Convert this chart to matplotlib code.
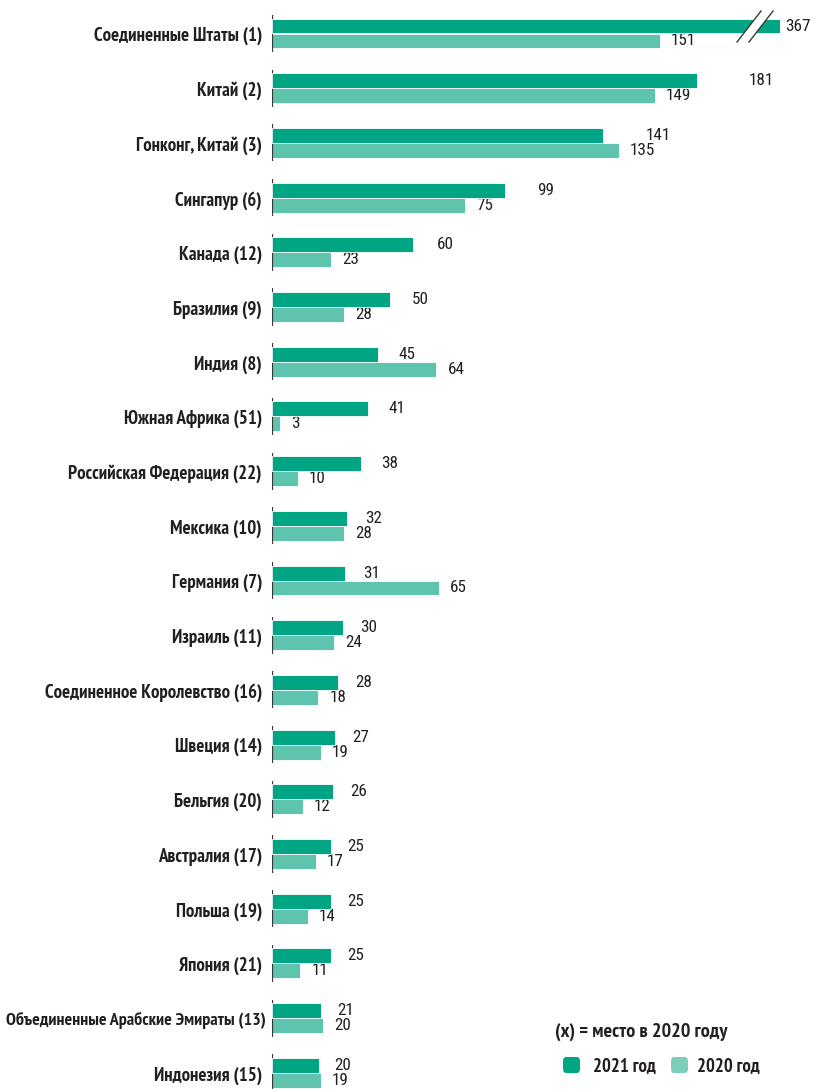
import matplotlib
matplotlib.use("Agg")
import matplotlib.pyplot as plt
from matplotlib.patches import FancyBboxPatch, Polygon
from matplotlib.lines import Line2D
import numpy as np

countries = [
    "Соединенные Штаты (1)", "Китай (2)", "Гонконг, Китай (3)", "Сингапур (6)",
    "Канада (12)", "Бразилия (9)", "Индия (8)", "Южная Африка (51)",
    "Российская Федерация (22)", "Мексика (10)", "Германия (7)", "Израиль (11)",
    "Соединенное Королевство (16)", "Швеция (14)", "Бельгия (20)",
    "Австралия (17)", "Польша (19)", "Япония (21)",
    "Объединенные Арабские Эмираты (13)", "Индонезия (15)",
]
values_2021 = [367, 181, 141, 99, 60, 50, 45, 41, 38, 32, 31, 30, 28, 27, 26, 25, 25, 25, 21, 20]
values_2020 = [151, 149, 135, 75, 23, 28, 64, 3, 10, 28, 65, 24, 18, 19, 12, 17, 14, 11, 20, 19]
legend_labels = ["2021 год", "2020 год"]
legend_note = "(x) = место в 2020 году"

C21 = "#00a583"
C20 = "#5fc4ad"
C20_LEG = "#7ccdb9"
DARK = "#3a3a3a"
TXT = "#231f20"

LAB_FAMILY = ["PT Sans Narrow", "DejaVu Sans"]
NUM_FAMILY = ["Roboto Condensed", "DejaVu Sans"]

W, H = 815, 1089
fig = plt.figure(figsize=(W / 100, H / 100), dpi=100)

left_px, right_px = 272, 780
row_px = 54.7
first_px = 33.5
top_px = first_px - 0.5 * row_px
ax = fig.add_axes([left_px / W, 0, (right_px - left_px) / W, (H - top_px) / H])
ax2 = ax.twiny()

n = len(countries)
y = np.arange(n)
bh = 0.274
off = 0.137

ymax = (H - first_px) / row_px
ax.set_ylim(ymax, -0.5)
ax2.set_ylim(ymax, -0.5)

# 2020 scale ~2.57 px/unit, 2021 scale ~2.35 px/unit (as in the source)
ax.set_xlim(0, (right_px - left_px) / 2.57)
ax2.set_xlim(0, (right_px - left_px) / 2.35)

ax.barh(y + off, values_2020, height=bh, color=C20, edgecolor="white", linewidth=0.6)
ax2.barh(y - off, values_2021, height=bh, color=C21, edgecolor="white", linewidth=0.6)

for a in (ax, ax2):
    for s in a.spines.values():
        s.set_visible(False)
    a.set_xticks([])
    a.set_yticks([])

# per-group axis segments
ax.vlines(np.zeros(n), y - 0.34, y + 0.34, color=DARK, linewidth=1.6, zorder=5)

lab_font = dict(family=LAB_FAMILY, fontweight="bold", color=TXT)
num_font = dict(family=NUM_FAMILY, fontsize=12.3, color=TXT)

renderer = fig.canvas.get_renderer()
for i, c in enumerate(countries):
    t = ax.text(-10 / 2.57, i + 0.05, c, ha="right", va="center", fontsize=13.6, **lab_font)
    bb = t.get_window_extent(renderer)
    if bb.x0 < 7:
        # long label: let it extend slightly right (as in the source) and shrink to fit
        t.set_x(-6 / 2.57)
        avail = (left_px - 6) - 7
        t.set_fontsize(13.6 * avail / bb.width)

xmax20 = ax.get_xlim()[1]
for i, (v21, v20) in enumerate(zip(values_2021, values_2020)):
    if v21 <= ax2.get_xlim()[1]:
        ax.annotate(str(v21), (min(v21, xmax20), i - off), xytext=(8, 0), textcoords="offset points",
                    ha="left", va="center", **num_font)
    else:
        ax.annotate(str(v21), (xmax20, i - off), xytext=(3.5, 0), textcoords="offset points",
                    ha="left", va="center", **num_font)
    ax.annotate(str(v20), (v20, i + off), xytext=(8, 0), textcoords="offset points",
                ha="left", va="center", **num_font)

# break marks on truncated bar
def px2fig(x, yy):
    return x / W, 1 - yy / H

gap = Polygon([px2fig(737, 42), px2fig(761, 11), px2fig(773, 11), px2fig(749, 42)],
              closed=True, transform=fig.transFigure, facecolor="white", edgecolor="none", zorder=10)
fig.add_artist(gap)
for x0 in (737, 749):
    (xa, ya), (xb, yb) = px2fig(x0, 42), px2fig(x0 + 24, 11)
    fig.add_artist(Line2D([xa, xb], [ya, yb], transform=fig.transFigure, color=DARK, linewidth=1.0, zorder=11))

# legend
fig.text(555 / W, 1 - 1032 / H, legend_note, ha="left", va="center",
         family=LAB_FAMILY, fontsize=14.5, fontweight="bold", color=TXT)
for (sx, tx, col, lab) in [(563, 593, C21, legend_labels[0]), (671, 697, C20_LEG, legend_labels[1])]:
    p = FancyBboxPatch((sx / W, 1 - 1073 / H), 17 / W, 16 / H,
                       boxstyle="round,pad=0,rounding_size=0.004", transform=fig.transFigure,
                       facecolor=col, edgecolor="none")
    fig.add_artist(p)
    fig.text(tx / W, 1 - 1066 / H, lab, ha="left", va="center",
             family=LAB_FAMILY, fontsize=13.5, fontweight="bold", color=TXT)

fig.savefig("out.png", dpi=100)
